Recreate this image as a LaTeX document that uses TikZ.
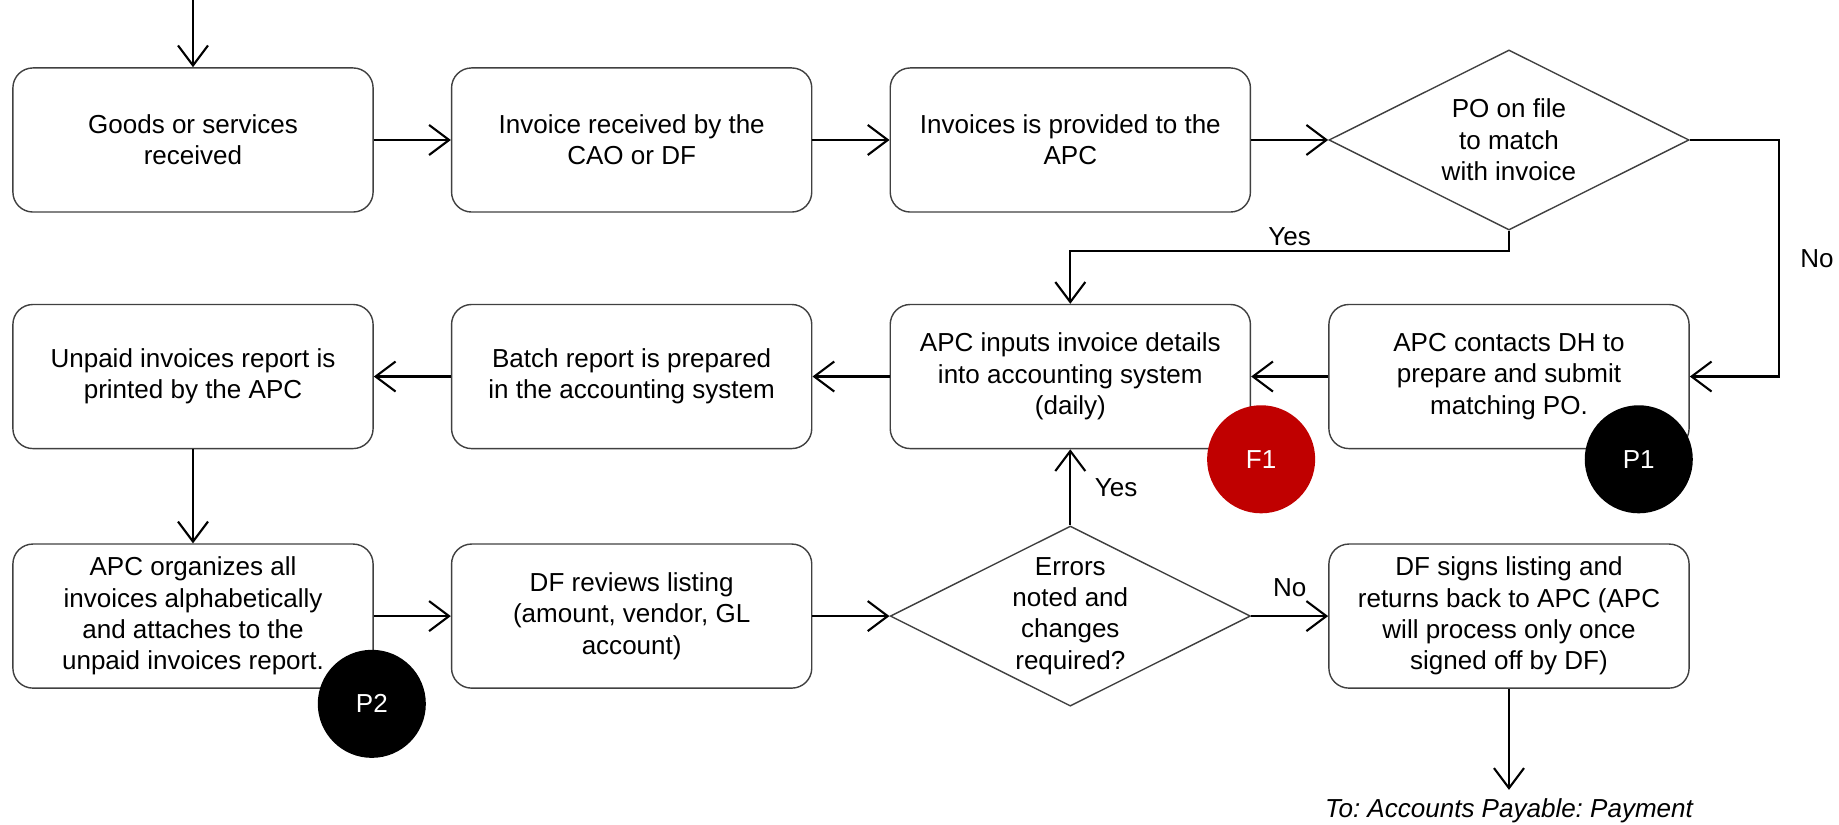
\documentclass[tikz,border=0pt]{standalone}
\usepackage{fontspec}
\setmainfont{Liberation Sans}
\usepackage{xcolor}
\usepackage{tikz}
\usetikzlibrary{arrows.meta,positioning,shapes,calc}

\definecolor{flagred}{HTML}{C00000}
\frenchspacing

\begin{document}
\begin{tikzpicture}[x=0.01cm, y=-0.01cm,
node distance=0.94cm and 0.77cm,
font=\fontsize{7.4pt}{8.9pt}\selectfont,
box/.style={rectangle, rounded corners=0.2cm, draw=black!75, line width=0.4pt, minimum width=3.6cm, minimum height=1.44cm, align=center, inner sep=0pt},
decision/.style={diamond, draw=black!75, line width=0.4pt, minimum width=3.6cm, minimum height=1.8cm, aspect=2, align=center, inner sep=0pt},
badge/.style={circle, minimum size=1.08cm, inner sep=0pt, text=white},
arrow/.style={-{Straight Barb[length=0.2cm, width=0.3cm]}, line width=0.6pt},
lbl/.style={inner sep=1pt}
]
\useasboundingbox (0,0) rectangle (1839,825);

% Top row
\node[box] (goods) at (193,140) {Goods or services\\received};
\node[box, right=of goods] (invoice) {Invoice received by the\\CAO or DF};
\node[box, right=of invoice] (provided) {Invoices is provided to the\\APC};
\node[decision, right=of provided] (po) {PO on file\\to match\\with invoice};

% Middle row
\node[box, below=0.91cm of provided] (inputs) {APC inputs invoice details\\into accounting system\\(daily)};
\node[box, right=of inputs] (contacts) {APC contacts DH to\\prepare and submit\\matching PO.};
\node[box, left=of inputs] (batch) {Batch report is prepared\\in the accounting system};
\node[box, left=of batch] (unpaid) {Unpaid invoices report is\\printed by the APC};

% Bottom row
\node[box, below=of unpaid] (organizes) {APC organizes all\\invoices alphabetically\\and attaches to the\\unpaid invoices report.};
\node[box, right=of organizes] (reviews) {DF reviews listing\\(amount, vendor, GL\\account)};
\node[decision, right=of reviews] (errors) {Errors\\noted and\\changes\\required?};
\node[box, right=of errors] (signs) {DF signs listing and\\returns back to APC (APC\\will process only once\\signed off by DF)};

% Exit
\node[below=1.01cm of signs, inner sep=0.08cm, font=\fontsize{7.4pt}{8.9pt}\selectfont\itshape] (exit) {To: Accounts Payable: Payment};
\coordinate (start) at ([yshift=0.68cm]goods.north);

% Arrows
\draw[arrow] (start) -- (goods);
\draw[arrow] (goods) -- (invoice);
\draw[arrow] (invoice) -- (provided);
\draw[arrow] (provided) -- (po);
\draw[arrow] (po.east) -- ++(0.89cm,0) |- node[lbl, pos=0.25, right=0.17cm] {No} (contacts.east);
\draw[arrow] (po.south) -- ++(0,-0.2cm) -| node[lbl, pos=0.25, above] {Yes} (inputs.north);
\draw[arrow] (contacts) -- (inputs);
\draw[arrow] (inputs) -- (batch);
\draw[arrow] (batch) -- (unpaid);
\draw[arrow] (unpaid) -- (organizes);
\draw[arrow] (organizes) -- (reviews);
\draw[arrow] (reviews) -- (errors);
\draw[arrow] (errors) -- node[lbl, midway, right=0.2cm] {Yes} (inputs);
\draw[arrow] (errors) -- node[lbl, midway, above=0.15cm] {No} (signs);
\draw[arrow] (signs) -- (exit);

% Markers
\node[badge, fill=flagred] (f1) at ([xshift=0.1cm, yshift=-0.1cm]inputs.south east) {F1};
\node[badge, fill=black] (p1) at ([xshift=-0.51cm, yshift=-0.1cm]contacts.south east) {P1};
\node[badge, fill=black] (p2) at ([xshift=-0.02cm, yshift=-0.15cm]organizes.south east) {P2};

\end{tikzpicture}
\end{document}
